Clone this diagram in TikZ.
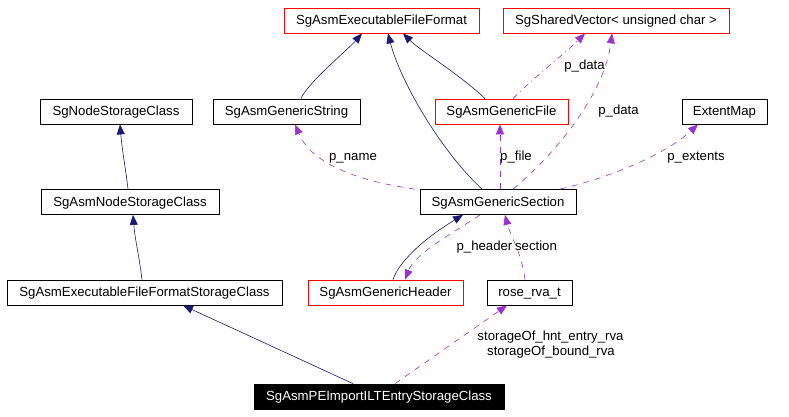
\documentclass[tikz,border=0pt]{standalone}
\usepackage{fontspec}
\setmainfont{Liberation Sans}
\usetikzlibrary{arrows.meta}
\definecolor{navy}{HTML}{191970}
\definecolor{orchid}{HTML}{9A32CD}
\begin{document}
\begin{tikzpicture}[x=1pt,y=-1pt,
  every node/.style={font=\fontsize{13.2}{15}\selectfont, inner sep=0pt, text height=9.5pt, text depth=1.5pt},
  cls/.style={draw=black, line width=0.8pt, fill=white, minimum height=25pt, anchor=center},
  redcls/.style={cls, draw=red},
  hl/.style={cls, fill=black, text=white},
  inh/.style={draw=navy, line width=0.6pt, -{Triangle[length=10pt,width=8pt]}},
  use/.style={draw=orchid, line width=0.6pt, dash pattern=on 6pt off 6pt, -{Triangle[length=10pt,width=8pt]}},
  usedot/.style={draw=orchid, line width=0.6pt, dash pattern=on 6pt off 4pt on 1pt off 4pt, -{Triangle[length=10pt,width=8pt]}},
  lbl/.style={fill=none}
]
\useasboundingbox (0,0) rectangle (789,416);
\fill[white] (0,0) rectangle (789,416);

\node[redcls, minimum width=195pt] (eff) at (381.5,20.5) {SgAsmExecutableFileFormat};
\node[redcls, minimum width=226pt] (sv) at (616,20.5) {SgSharedVector< unsigned char >};
\node[cls, minimum width=152pt] (nsc) at (116,111.5) {SgNodeStorageClass};
\node[cls, minimum width=147pt] (gstr) at (286.5,111.5) {SgAsmGenericString};
\node[redcls, minimum width=133pt] (gfile) at (501.5,111.5) {SgAsmGenericFile};
\node[cls, minimum width=85pt] (emap) at (724.5,111.5) {ExtentMap};
\node[cls, minimum width=178pt] (ansc) at (130,202) {SgAsmNodeStorageClass};
\node[cls, minimum width=156pt] (gsec) at (498,202) {SgAsmGenericSection};
\node[cls, minimum width=275pt] (efsc) at (144.5,292.5) {SgAsmExecutableFileFormatStorageClass};
\node[redcls, minimum width=155pt] (ghdr) at (385.5,292.5) {SgAsmGenericHeader};
\node[cls, minimum width=85pt] (rva) at (529.5,292.5) {rose\_rva\_t};
\node[hl, minimum width=250pt] (ilt) at (379,396.5) {SgAsmPEImportILTEntryStorageClass};

% inheritance edges
\draw[inh] ([xshift=14.5pt]gstr.north) .. controls +(5,-14) and +(-12,14) .. ([xshift=-19.5pt]eff.south);
\draw[inh] ([xshift=-16pt]gsec.north) .. controls +(-42,-39) and +(12,47) .. ([xshift=6.5pt]eff.south);
\draw[inh] ([xshift=-16.5pt]gfile.north) .. controls +(-25,-24) and +(17,17) .. ([xshift=21.5pt]eff.south);
\draw[inh] ([xshift=7.5pt]ghdr.north) .. controls +(7,-21) and +(-33,20) .. ([xshift=-35pt]gsec.south);
\draw[inh] ([xshift=-2pt]ansc.north) .. controls +(-3,-25) and +(2,25) .. ([xshift=4pt]nsc.south);
\draw[inh] ([xshift=-2.5pt]efsc.north) .. controls +(-3,-25) and +(2,25) .. ([xshift=3pt]ansc.south);
\draw[inh] ([xshift=-26pt]ilt.north) -- ([xshift=38.5pt]efsc.south);

% usage edges
\draw[usedot] ([xshift=11.5pt]gfile.north) .. controls +(25,-25) and +(-22,22) .. ([xshift=-31pt]sv.south);
\draw[use] ([xshift=15pt]gsec.north) .. controls +(47,-39) and +(-7,57) .. ([xshift=-4pt]sv.south);
\draw[use] ([xshift=-83pt]gsec.north) .. controls +(-65,-9) and +(15,36) .. ([xshift=8.5pt]gstr.south);
\draw[use] ([xshift=2pt]gsec.north) -- ([xshift=-1.5pt]gfile.south);
\draw[use] ([xshift=62pt]gsec.north) .. controls +(60,-14) and +(-28,26) .. ([xshift=-26.5pt]emap.south);
\draw[use] ([xshift=-18pt]gsec.south) .. controls +(-30,20) and +(10,-26) .. ([xshift=19.5pt]ghdr.north);
\draw[use] ([xshift=-4.5pt]rva.north) .. controls +(-3,-26) and +(5,20) .. ([xshift=7pt]gsec.south);
\draw[use] ([xshift=16pt]ilt.north) -- ([xshift=-22.5pt]rva.south);

% labels
\node[lbl] (l1) at (584.5,65) {p\_data};
\node[lbl] (l2) at (618.5,110) {p\_data};
\node[lbl] (l3) at (353,156) {p\_name};
\node[lbl] (l4) at (516,156) {p\_file};
\node[lbl] (l5) at (696,156) {p\_extents};
\node[lbl] (l6) at (484.5,246.5) {p\_header};
\node[lbl] (l7) at (536,246.5) {section};
\node[lbl] (l8) at (550.5,336.5) {storageOf\_hnt\_entry\_rva};
\node[lbl] (l9) at (551,351.5) {storageOf\_bound\_rva};
\end{tikzpicture}
\end{document}
